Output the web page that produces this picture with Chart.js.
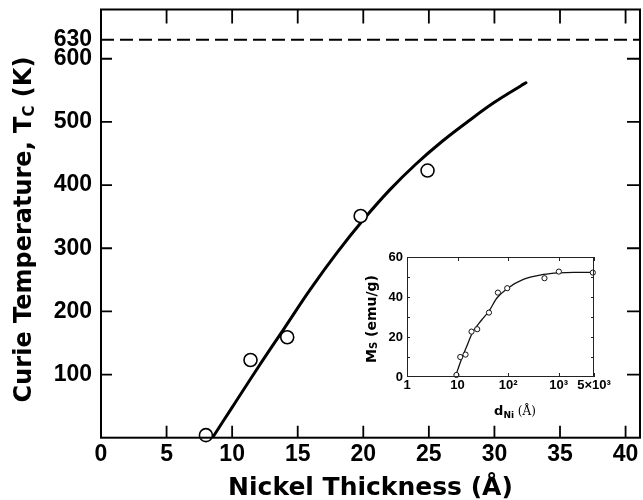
<!DOCTYPE html>
<html><head><meta charset="utf-8">
<script src="https://cdn.jsdelivr.net/npm/chart.js@4.4.1/dist/chart.umd.min.js"></script>
<style>
html,body{margin:0;padding:0;background:#fff;}
#wrap{position:relative;width:643px;height:500px;overflow:hidden;background:#fff;}
#main{position:absolute;left:0;top:0;}
#inset{position:absolute;left:350px;top:247px;}
</style></head><body>
<div id="wrap"><canvas id="main" width="643" height="500"></canvas><canvas id="inset" width="270" height="180"></canvas></div>
<script>
// ---- main panel data ----
const tcThickness = [8.0, 11.4, 14.2, 19.8, 24.9];
const tcValues = [4, 123, 159, 351, 423];
const fitThickness = [8.5, 10, 12, 14, 16, 18, 20, 22, 24, 26, 28, 30, 32, 32.4];
const fitTc = [0, 48, 112, 174, 236, 293, 345, 392, 433, 469, 501, 531, 557, 562];
const bulkTc = 630;
const xTicks = [0, 5, 10, 15, 20, 25, 30, 35, 40];
const yTicks = [100, 200, 300, 400, 500, 600, 630];
const yTickMarks = [100, 200, 300, 400, 500, 600];
// ---- inset data ----
const msThickness = [9.5, 11.3, 14.4, 18.9, 24.5, 41.8, 62.8, 96, 524, 1009, 4740];
const msValues = [1, 10, 11.2, 22.7, 23.9, 32.2, 42.2, 44.4, 49.4, 52.7, 52.2];
const msFitThickness = [9, 12, 15, 20, 30, 42, 60, 100, 200, 500, 1000, 2000, 5000];
const msFit = [0, 9, 15, 22.5, 28.5, 33, 39.5, 44.5, 48.8, 51.3, 52.1, 52.3, 52.3];
const insetXTicks = [1, 10, 100, 1000, 5000];
const insetXLabels = ['1', '10', '10²', '10³', '5×10³'];
const insetYTicks = [0, 20, 40, 60];
const insetYMinor = [10, 20, 30, 40, 50];

function drawRich(ctx, parts, cx, cy, rot, baseOff) {
  ctx.save();
  ctx.translate(cx, cy);
  ctx.rotate(rot);
  let w = 0;
  parts.forEach(p => { ctx.font = p.font; p.w = ctx.measureText(p.t).width; w += p.w; });
  let x = -w / 2;
  ctx.textAlign = 'left';
  ctx.textBaseline = 'alphabetic';
  ctx.fillStyle = '#000';
  parts.forEach(p => { ctx.font = p.font; ctx.fillText(p.t, x, baseOff + (p.dy || 0)); x += p.w; });
  ctx.restore();
}

function zeroPad(s) { s.paddingTop = 0; s.paddingBottom = 0; s.paddingLeft = 0; s.paddingRight = 0; }

const mainDeco = {
  id: 'mainDeco',
  afterDraw(chart) {
    const {ctx, chartArea: a, scales: {x, y}} = chart;
    ctx.save();
    ctx.strokeStyle = '#000';
    ctx.lineWidth = 2;
    ctx.strokeRect(a.left, a.top, a.right - a.left, a.bottom - a.top);
    ctx.lineWidth = 1.8;
    ctx.beginPath();
    xTicks.forEach(v => {
      const px = x.getPixelForValue(v);
      ctx.moveTo(px, a.bottom); ctx.lineTo(px, a.bottom - 12);
      ctx.moveTo(px, a.top); ctx.lineTo(px, a.top + 14);
    });
    yTickMarks.forEach(v => {
      const py = y.getPixelForValue(v);
      ctx.moveTo(a.left, py); ctx.lineTo(a.left + 11, py);
      ctx.moveTo(a.right, py); ctx.lineTo(a.right - 13, py);
    });
    ctx.stroke();
    ctx.setLineDash([13, 6]);
    ctx.lineWidth = 2;
    const py = y.getPixelForValue(bulkTc);
    ctx.beginPath(); ctx.moveTo(a.left, py); ctx.lineTo(a.right, py); ctx.stroke();
    ctx.setLineDash([]);
    ctx.restore();
    drawRich(ctx, [
      {t: 'Curie Temperature, T', font: 'bold 24px "DejaVu Sans"'},
      {t: 'C', font: 'bold 15px "DejaVu Sans"', dy: 3},
      {t: ' (K)', font: 'bold 24px "DejaVu Sans"'}
    ], 23.5, 229.5, -Math.PI / 2, 7);
  }
};

new Chart(document.getElementById('main'), {
  type: 'line',
  data: {
    datasets: [
      {
        type: 'scatter',
        data: tcThickness.map((v, i) => ({x: v, y: tcValues[i]})),
        pointRadius: 6.5,
        pointBackgroundColor: '#fff',
        pointBorderColor: '#000',
        pointBorderWidth: 1.6,
        showLine: false,
        clip: false
      },
      {
        data: fitThickness.map((v, i) => ({x: v, y: fitTc[i]})),
        borderColor: '#000',
        borderWidth: 3,
        pointRadius: 0,
        tension: 0.4,
        borderCapStyle: 'round',
        fill: false
      }
    ]
  },
  options: {
    responsive: false,
    animation: false,
    devicePixelRatio: 1,
    layout: {autoPadding: false, padding: {left: 0, right: 3, top: 9.5, bottom: 0}},
    plugins: {legend: {display: false}, tooltip: {enabled: false}},
    scales: {
      x: {
        type: 'linear', min: 0, max: 41.1,
        grid: {display: false, drawTicks: false},
        border: {display: false},
        afterBuildTicks: s => { s.ticks = xTicks.map(v => ({value: v})); },
        afterFit: s => { s.height = 62.3; zeroPad(s); },
        ticks: {
          autoSkip: false, maxRotation: 0, padding: 3, color: '#000',
          font: {family: 'Liberation Sans', size: 23, weight: 'bold'}
        },
        title: {
          display: true, text: 'Nickel Thickness (Å)', color: '#000',
          font: {family: 'DejaVu Sans', size: 25, weight: 'bold'},
          padding: {top: 0, bottom: -3}
        }
      },
      y: {
        type: 'linear', min: 0, max: 678,
        grid: {display: false, drawTicks: false},
        border: {display: false},
        afterBuildTicks: s => { s.ticks = yTicks.map(v => ({value: v})); },
        afterFit: s => { s.width = 101; zeroPad(s); },
        ticks: {
          autoSkip: false, padding: 9, color: '#000',
          font: {family: 'Liberation Sans', size: 23, weight: 'bold'}
        }
      }
    }
  },
  plugins: [mainDeco]
});

const insetDeco = {
  id: 'insetDeco',
  afterDraw(chart) {
    const {ctx, chartArea: a, scales: {x, y}} = chart;
    ctx.save();
    ctx.strokeStyle = '#222';
    ctx.lineWidth = 1;
    ctx.strokeRect(a.left + 0.5, a.top + 0.5, a.right - a.left - 1, a.bottom - a.top - 1);
    ctx.beginPath();
    insetXTicks.forEach(v => {
      const px = Math.round(x.getPixelForValue(v)) + 0.5;
      ctx.moveTo(px, a.bottom); ctx.lineTo(px, a.bottom - 4);
      ctx.moveTo(px, a.top); ctx.lineTo(px, a.top + 4);
    });
    insetYMinor.forEach(v => {
      const py = Math.round(y.getPixelForValue(v)) + 0.5;
      ctx.moveTo(a.left, py); ctx.lineTo(a.left + 3, py);
      ctx.moveTo(a.right, py); ctx.lineTo(a.right - 3, py);
    });
    ctx.stroke();
    ctx.restore();
    drawRich(ctx, [
      {t: 'M', font: 'bold 14px "DejaVu Sans"'},
      {t: 'S', font: 'bold 10px "DejaVu Sans"', dy: 1},
      {t: ' (emu/g)', font: 'bold 14px "DejaVu Sans"'}
    ], 20.5, 72, -Math.PI / 2, 5);
    drawRich(ctx, [
      {t: 'd', font: 'bold 13px "DejaVu Sans"'},
      {t: 'Ni', font: 'bold 9px "DejaVu Sans"', dy: 3},
      {t: ' (Å)', font: '12px "DejaVu Serif"'}
    ], 165, 168, 0, 0);
  }
};

new Chart(document.getElementById('inset'), {
  type: 'line',
  data: {
    datasets: [
      {
        type: 'scatter',
        data: msThickness.map((v, i) => ({x: v, y: msValues[i]})),
        pointRadius: 2.6,
        pointBackgroundColor: '#fff',
        pointBorderColor: '#111',
        pointBorderWidth: 1,
        showLine: false,
        clip: false
      },
      {
        data: msFitThickness.map((v, i) => ({x: v, y: msFit[i]})),
        borderColor: '#111',
        borderWidth: 1.3,
        pointRadius: 0,
        cubicInterpolationMode: 'monotone',
        fill: false
      }
    ]
  },
  options: {
    responsive: false,
    animation: false,
    devicePixelRatio: 1,
    layout: {autoPadding: false, padding: {left: 0, right: 26, top: 10, bottom: 0}},
    plugins: {legend: {display: false}, tooltip: {enabled: false}},
    scales: {
      x: {
        type: 'logarithmic', min: 1, max: 5000,
        grid: {display: false, drawTicks: false},
        border: {display: false},
        afterBuildTicks: s => { s.ticks = insetXTicks.map(v => ({value: v})); },
        afterFit: s => { s.height = 50; zeroPad(s); },
        ticks: {
          autoSkip: false, maxRotation: 0, padding: 1, color: '#000',
          font: {family: 'Liberation Sans', size: 13, weight: 'bold'},
          callback: (v) => insetXLabels[insetXTicks.indexOf(v)]
        }
      },
      y: {
        type: 'linear', min: 0, max: 60,
        grid: {display: false, drawTicks: false},
        border: {display: false},
        afterBuildTicks: s => { s.ticks = insetYTicks.map(v => ({value: v})); },
        afterFit: s => { s.width = 57; zeroPad(s); },
        ticks: {
          autoSkip: false, padding: 4, color: '#000',
          font: {family: 'Liberation Sans', size: 13, weight: 'bold'}
        }
      }
    }
  },
  plugins: [insetDeco]
});
</script>
</body></html>
